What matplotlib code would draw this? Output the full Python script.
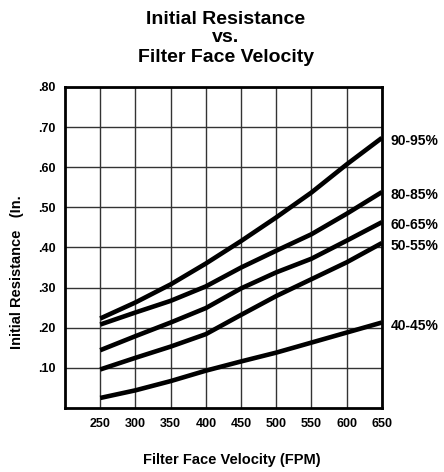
import matplotlib.pyplot as plt

# face velocity (FPM) and initial resistance (in. w.g.)
velocity = [250, 300, 350, 400, 450, 500, 550, 600, 650]
eff_40_45 = [0.025, 0.044, 0.067, 0.093, 0.116, 0.138, 0.163, 0.188, 0.213]
eff_50_55 = [0.096, 0.125, 0.153, 0.184, 0.232, 0.279, 0.321, 0.363, 0.411]
eff_60_65 = [0.144, 0.179, 0.213, 0.249, 0.298, 0.338, 0.372, 0.417, 0.463]
eff_80_85 = [0.208, 0.238, 0.267, 0.303, 0.350, 0.392, 0.433, 0.484, 0.538]
eff_90_95 = [0.223, 0.263, 0.308, 0.360, 0.416, 0.475, 0.537, 0.607, 0.673]
series_labels = ['40-45%', '50-55%', '60-65%', '80-85%', '90-95%']

xticks = [250, 300, 350, 400, 450, 500, 550, 600, 650]
yticks = [0.1, 0.2, 0.3, 0.4, 0.5, 0.6, 0.7, 0.8]
ytick_labels = ['.10', '.20', '.30', '.40', '.50', '.60', '.70', '.80']

sans = ['Liberation Sans', 'DejaVu Sans']

fig = plt.figure(figsize=(4.44, 4.72), dpi=100)
ax = fig.add_axes([0.1464, 0.1356, 0.7136, 0.6801])

all_series = [eff_40_45, eff_50_55, eff_60_65, eff_80_85, eff_90_95]
for vals, lab in zip(all_series, series_labels):
    ax.plot(velocity, vals, color='black', lw=3.3, solid_capstyle='butt')
    ax.text(663, vals[-1] - 0.008, lab, family=sans, fontweight='bold',
            fontsize=10, va='center', ha='left', clip_on=False)

ax.set_xlim(200, 650)
ax.set_ylim(0, 0.8)
ax.set_xticks(xticks)
ax.set_yticks(yticks)
ax.set_yticklabels(ytick_labels)
ax.tick_params(length=0, pad=7)
for t in ax.get_xticklabels() + ax.get_yticklabels():
    t.set_family(sans)
    t.set_fontweight('bold')
    t.set_fontsize(9)

ax.grid(True, color='#333333', lw=1.0)
ax.set_axisbelow(True)
for s in ax.spines.values():
    s.set_linewidth(2.0)

fig.text(0.509, 0.958, 'Initial Resistance', ha='center', va='center',
         family=sans, fontweight='bold', fontsize=14)
fig.text(0.509, 0.920, 'vs.', ha='center', va='center',
         family=sans, fontweight='bold', fontsize=14)
fig.text(0.509, 0.879, 'Filter Face Velocity', ha='center', va='center',
         family=sans, fontweight='bold', fontsize=14)

fig.text(0.522, 0.026, 'Filter Face Velocity (FPM)', ha='center', va='center',
         family=sans, fontweight='bold', fontsize=10.5)
fig.text(0.038, 0.424, 'Initial Resistance   (In.', ha='center', va='center',
         rotation=90, family=sans, fontweight='bold', fontsize=10.5)

fig.savefig('out.png', dpi=100, facecolor='white')
